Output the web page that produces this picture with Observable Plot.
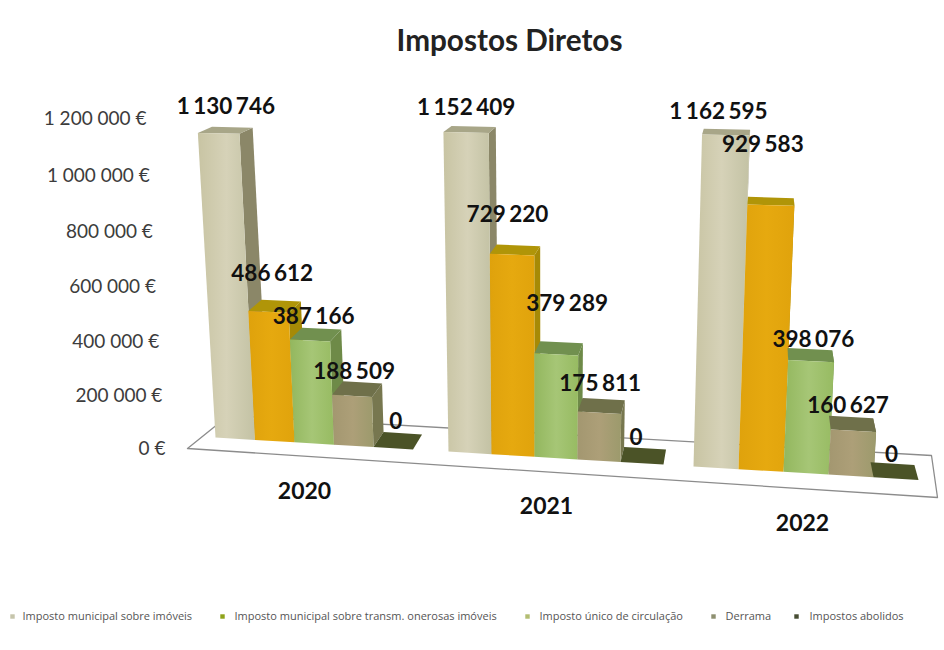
<!DOCTYPE html>
<html><head><meta charset="utf-8">
<script src="https://cdn.jsdelivr.net/npm/d3@7"></script>
<script src="https://cdn.jsdelivr.net/npm/@observablehq/plot@0.6"></script>
<style>html,body{margin:0;padding:0;background:#fff}svg{display:block}</style>
</head><body><div id="chart"></div>
<script>
const title = "Impostos Diretos";
const years = ["2020", "2021", "2022"];
const seriesNames = [
  "Imposto municipal sobre imóveis",
  "Imposto municipal sobre transm. onerosas imóveis",
  "Imposto único de circulação",
  "Derrama",
  "Impostos abolidos"
];
const imi = [1130746, 1152409, 1162595];
const imt = [486612, 729220, 929583];
const iuc = [387166, 379289, 398076];
const derrama = [188509, 175811, 160627];
const abolidos = [0, 0, 0];
const axisTicks = [0, 200000, 400000, 600000, 800000, 1000000, 1200000];

const allSeries = [imi, imt, iuc, derrama, abolidos];
const fmt = d3.formatLocale({decimal: ",", thousands: " ", grouping: [3], currency: ["", " €"]}).format(",d");

// 3D look: a perspective projection applied to (floor position, value)
const Y0 = 447, PX_PER_UNIT = 275 / 1e6;
const eased = v => v * (0.96 + 0.04 * v / 1.2e6);
const floorY = b => 437 + 0.0605 * (b - 215);
const toValue = py => (Y0 - py) / PX_PER_UNIT;
function project(b, v, back = false) {
  const m = v / 1e6;
  let X = b + (b - 540) * 0.048 * m;
  let Y = floorY(b) - (270 + 0.033 * (b - 215)) * eased(v) / 1e6;
  if (back) { X += (760 - b) * 0.026; Y -= 15 - 9 * m / 1.15; }
  return {x: X, y: toValue(Y)};
}
const groupStart = [215, 448, 693], groupStep = [39.5, 43, 45];
const faceColors = [
  {front: "url(#f0)", side: "#8b8768", top: "#a8a688"},
  {front: "url(#f1)", side: "#a68a06", top: "#b09508"},
  {front: "url(#f2)", side: "#6e8a48", top: "#71904f"},
  {front: "url(#f3)", side: "#77774f", top: "#6f704a"},
  {front: "#4b5327", side: "#4b5327", top: "#4b5327"}
];
const gradients = [
  ["#c8c4a3", "#d6d2b8", "#c3c2a4"],
  ["#dfa20c", "#e6a90f", "#e0a30c"],
  ["#93b75e", "#a6c676", "#97bb62"],
  ["#a39770", "#ad9f78", "#9c9a6c"]
];
const labelNudge = [
  [[-6.5,-20],[-9,-27],[-8,-12],[-8.5,-11],[-7,-11]],
  [[-7.5,-19],[-11,-31],[5.5,-39],[-3.5,-15],[-9,-11]],
  [[-8.5,-17],[-8,-53],[3.5,-9],[-3,-11],[-1,-9]]
];

const polys = [], labels = [];
years.forEach((yr, i) => allSeries.forEach((s, j) => {
  const v = s[i], a = groupStart[i] + j * groupStep[i], b = a + groupStep[i];
  const c = faceColors[j];
  polys.push({fill: c.side, pts: [project(b, 0), project(b, 0, true), project(b, v, true), project(b, v)]});
  polys.push({fill: c.top, pts: [project(a, v), project(b, v), project(b, v, true), project(a, v, true)]});
  if (v > 0) polys.push({fill: c.front, pts: [project(a, 0), project(b, 0), project(b, v), project(a, v)]});
  const t0 = project(a, v, true), t1 = project(b, v, true);
  const [nx, ny] = labelNudge[i][j];
  labels.push({x: (t0.x + t1.x) / 2 + nx, y: (t0.y + t1.y) / 2 - ny * 1e6 / 275, text: fmt(v)});
}));

const floor = [[187,448],[228,415],[931,455],[937,497],[187,448]].map(([x, y]) => ({x, y: toValue(y)}));
const yearLabels = years.map((text, i) => ({text, x: [304, 546, 802][i], y: toValue([491, 506, 523][i])}));
const legendX = [[12, 22], [222, 234], [527, 539], [713, 725], [796, 809]];
const legendColors = ["#c6c5ab", "#8fa31a", "#b3bd72", "#8e9070", "#474d33"];
const legend = seriesNames.map((name, i) => ({name, sx: legendX[i][0], tx: legendX[i][1], color: legendColors[i]}));

const chart = Plot.plot({
  width: 944, height: 650,
  marginTop: 0, marginRight: 0, marginBottom: 0, marginLeft: 0,
  style: {fontFamily: "Lato", background: "#fff", color: "#111"},
  x: {domain: [0, 944], range: [0, 944], axis: null},
  y: {domain: [0, 1200000], range: [Y0, 117], axis: null},
  marks: [
    Plot.line(floor, {x: "x", y: "y", stroke: "#8c8c8c", strokeWidth: 1.3, fill: "#fff"}),
    ...polys.map(p => Plot.line(p.pts, {x: "x", y: "y", fill: p.fill, stroke: "none"})),
    ...axisTicks.map(v => Plot.axisY([v], {
      anchor: "left", tickSize: 0, tickPadding: 0, label: null,
      tickFormat: d => fmt(d) + " €",
      dx: 165 - 19 * v / 1.2e6,
      dy: 275 * (v - eased(v)) / 1e6 + 1.5,
      fontSize: 19, fill: "#3c3c3c"
    })),
    Plot.text(labels, {x: "x", y: "y", text: "text", fontSize: 22.5, fontWeight: 700, fill: "#111"}),
    Plot.text(yearLabels, {x: "x", y: "y", text: "text", fontSize: 23, fontWeight: 700, fill: "#111"}),
    Plot.text([title], {x: () => 509, frameAnchor: "top", dy: 29, fontSize: 29.7, fontWeight: 700, fill: "#222"}),
    Plot.dot(legend, {x: "sx", frameAnchor: "bottom", dy: -34, r: 2.5, symbol: "square", fill: "color"}),
    Plot.text(legend, {x: "tx", frameAnchor: "bottom", dy: -31, text: "name", textAnchor: "start", fontSize: 11, fontFamily: "Open Sans", fill: "#555"})
  ]
});
// soft shading of the front faces
const defs = d3.select(chart).insert("defs", ":first-child");
gradients.forEach((stops, i) => {
  const g = defs.append("linearGradient").attr("id", "f" + i);
  stops.forEach((c, k) => g.append("stop").attr("offset", k / (stops.length - 1)).attr("stop-color", c));
});
// the data labels use the tight digit groups of the original
chart.querySelectorAll("text").forEach(t => {
  if (t.getAttribute("font-size") === "22.5" || t.parentNode.getAttribute("font-size") === "22.5") t.style.wordSpacing = "-2px";
});
document.getElementById("chart").append(chart);
</script></body></html>
